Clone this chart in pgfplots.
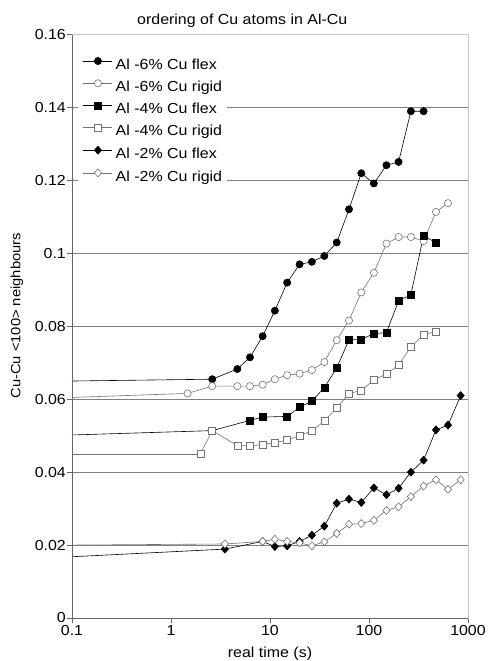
\documentclass[border=0pt]{standalone}
\usepackage{fontspec}
\setmainfont{Liberation Sans}[FakeStretch=1.1]
\usepackage{pgfplots}
\pgfplotsset{compat=1.18}
\usepackage{pgfplotstable}

\pgfplotstableread{
x y
2.61 0.0655
4.68 0.0683
6.28 0.0715
8.43 0.0773
11.2 0.0843
14.9 0.0920
19.9 0.0970
26.5 0.0977
35.4 0.0993
47.2 0.1030
62.8 0.1121
83.6 0.1220
112 0.1192
150 0.1242
199 0.1251
265 0.1390
356 0.1390
}\sixflex
\pgfplotstableread{
x y
1.47 0.0616
2.61 0.0636
4.68 0.0636
6.28 0.0636
8.43 0.0640
11.2 0.0655
14.9 0.0666
19.9 0.0670
26.5 0.0680
35.4 0.0702
47.2 0.0762
62.8 0.0816
83.6 0.0893
112 0.0947
150 0.1027
199 0.1045
265 0.1045
356 0.1034
475 0.1114
628 0.1138
}\sixrigid
\pgfplotstableread{
x y
2.61 0.0514
6.28 0.0542
8.43 0.0551
14.9 0.0553
19.9 0.0578
26.5 0.0595
35.4 0.0632
47.2 0.0686
62.8 0.0763
83.6 0.0764
112 0.0780
150 0.0783
199 0.0870
265 0.0887
356 0.1049
475 0.1029
}\fourflex
\pgfplotstableread{
x y
1.98 0.0450
2.61 0.0514
4.68 0.0473
6.28 0.0472
8.43 0.0476
11.2 0.0481
14.9 0.0488
19.9 0.0500
26.5 0.0514
35.4 0.0540
47.2 0.0577
62.8 0.0616
83.6 0.0624
112 0.0653
150 0.0669
199 0.0694
265 0.0743
356 0.0778
475 0.0785
}\fourrigid
\pgfplotstableread{
x y
3.5 0.0189
8.43 0.0210
11.2 0.0196
14.9 0.0198
19.9 0.0210
26.5 0.0227
35.4 0.0252
47.2 0.0315
62.8 0.0326
83.6 0.0317
112 0.0357
150 0.0338
199 0.0356
265 0.0400
356 0.0433
475 0.0516
628 0.0529
843 0.0610
}\twoflex
\pgfplotstableread{
x y
3.5 0.0203
8.43 0.0210
11.2 0.0216
14.9 0.0210
19.9 0.0206
26.5 0.0198
35.4 0.0209
47.2 0.0232
62.8 0.0257
83.6 0.0259
112 0.0268
150 0.0295
199 0.0305
265 0.0333
356 0.0362
475 0.0379
628 0.0353
843 0.0379
}\tworigid

\pgfplotsset{
  flexline/.style={black, line width=0.6pt},
  rigidline/.style={black!55, line width=0.6pt},
}

\begin{document}
\fontsize{14.5pt}{17pt}\selectfont
\begin{tikzpicture}
\useasboundingbox (-72pt,-43pt) rectangle (416pt,618pt);
\begin{axis}[
  at={(0pt,0pt)}, anchor=south west,
  scale only axis, width=396pt, height=583.3pt,
  xmode=log, xmin=0.1, xmax=1000, ymin=0, ymax=0.16,
  xtick={0.1,1,10,100,1000}, xticklabels={0.1,1,10,100,1000},
  ytick={0,0.02,0.04,0.06,0.08,0.1,0.12,0.14,0.16},
  yticklabels={0,0.02,0.04,0.06,0.08,0.1,0.12,0.14,0.16},
  xminorticks=false,
  ymajorgrids, grid style={black!50, line width=0.8pt},
  axis line style={black!22, line width=0.8pt},
  xtick pos=bottom, ytick pos=left, tick align=outside, major tick length=5pt,
  tick style={black!60, line width=0.6pt},
  /pgf/number format/assume math mode=true,
  tick label style={font=\fontsize{14.5pt}{17pt}\selectfont},
  yticklabel style={inner sep=1pt},
  xticklabel style={inner sep=1pt, yshift=-1pt},
  label style={font=\fontsize{14.5pt}{17pt}\selectfont},
  title={ordering of Cu atoms in Al-Cu},
  title style={font=\fontsize{14.5pt}{17pt}\selectfont, at={(0.43,1)}, anchor=base, yshift=4.5pt},
  xlabel={real time (s)},
  xlabel style={at={(0.5,0)}, anchor=base, yshift=-39pt},
  ylabel={Cu-Cu <100> neighbours},
  ylabel style={font=\fontsize{13.4pt}{16pt}\selectfont, at={(-0.1389,0.518)}, anchor=center},
  legend cell align=left,
  legend style={at={(0.015,0.9665)}, anchor=north west, fill=white, draw=none,
    inner xsep=5pt, inner ysep=3pt, row sep=7.4pt, column sep=3pt,
    nodes={inner sep=0pt, text height=10.5pt, text depth=3pt},
    font=\fontsize{14.5pt}{17pt}\selectfont},
  legend image code/.code={\draw[mark repeat=2,mark phase=2,#1] plot coordinates {(0pt,4.5pt) (14.5pt,4.5pt) (29pt,4.5pt)};},
  after end axis/.code={\draw[black!60, line width=0.8pt] (rel axis cs:0,1) -- (rel axis cs:0,0) -- (rel axis cs:1,0);},
]
% lead-in lines from the left edge
\addplot[black, line width=0.6pt, forget plot] coordinates {(0.1,0.0650) (2.61,0.0655)};
\addplot[black!55, line width=0.6pt, forget plot] coordinates {(0.1,0.0605) (1.47,0.0616)};
\addplot[black, line width=0.6pt, forget plot] coordinates {(0.1,0.0502) (2.61,0.0514)};
\addplot[black!55, line width=0.6pt, forget plot] coordinates {(0.1,0.0450) (1.98,0.0450)};
\addplot[black, line width=0.6pt, forget plot] coordinates {(0.1,0.0168) (3.5,0.0189)};
\addplot[black!55, line width=0.6pt, forget plot] coordinates {(0.1,0.0200) (3.5,0.0203)};

\addplot[flexline, mark=*, mark size=3.6pt, mark options={solid, fill=black, draw=black}] table {\sixflex};
\addlegendentry{Al -6\% Cu flex}
\addplot[rigidline, mark=*, mark size=3.6pt, mark options={solid, fill=white, draw=black!55, line width=0.6pt}] table {\sixrigid};
\addlegendentry{Al -6\% Cu rigid}
\addplot[flexline, mark=square*, mark size=3.5pt, mark options={solid, fill=black, draw=black}] table {\fourflex};
\addlegendentry{Al -4\% Cu flex}
\addplot[rigidline, mark=square*, mark size=3.5pt, mark options={solid, fill=white, draw=black!55, line width=0.6pt}] table {\fourrigid};
\addlegendentry{Al -4\% Cu rigid}
\addplot[flexline, mark=diamond*, mark size=4pt, mark options={solid, fill=black, draw=black, xscale=1.2}] table {\twoflex};
\addlegendentry{Al -2\% Cu flex}
\addplot[rigidline, mark=diamond*, mark size=4pt, mark options={solid, fill=white, draw=black!55, line width=0.6pt, xscale=1.2}] table {\tworigid};
\addlegendentry{Al -2\% Cu rigid}
\end{axis}
\end{tikzpicture}
\end{document}
